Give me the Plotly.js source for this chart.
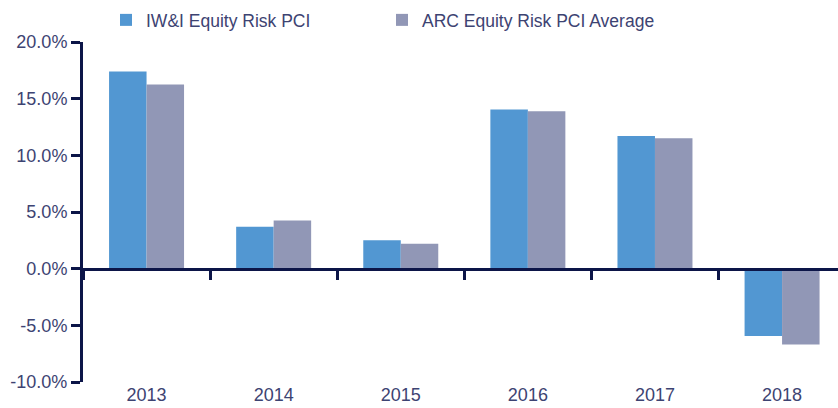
<!DOCTYPE html>
<html>
<head>
<meta charset="utf-8">
<script src="https://cdn.plot.ly/plotly-3.0.1.min.js"></script>
<style>html,body{margin:0;padding:0;background:#fff;}#chart{width:838px;height:408px;}</style>
</head>
<body>
<div id="chart"></div>
<script>
var years = ["2013", "2014", "2015", "2016", "2017", "2018"];
var iwiValues = [17.4, 3.7, 2.5, 14.05, 11.7, -5.95];
var arcValues = [16.25, 4.25, 2.2, 13.9, 11.5, -6.7];
var seriesNames = ["IW&I Equity Risk PCI", "ARC Equity Risk PCI Average"];
var yTickVals = [-10, -5, 0, 5, 10, 15, 20];
var yTickText = ["-10.0%", "-5.0%", "0.0%", "5.0%", "10.0%", "15.0%", "20.0%"];

var navy = "#0c1548";
var textColor = "#3d4372";
var family = "Liberation Sans, Arial, sans-serif";
var tickFont = {family: family, size: 18, color: textColor};
var legendFont = {family: family, size: 17.5, color: textColor};

var data = [
  {type: "bar", name: seriesNames[0], x: years, y: iwiValues, marker: {color: "#5297d2"}, hoverinfo: "x+y"},
  {type: "bar", name: seriesNames[1], x: years, y: arcValues, marker: {color: "#9197b6"}, hoverinfo: "x+y"},
  // invisible carrier so the zero-line axis (x2) gets its categories
  {type: "scatter", mode: "markers", x: years, y: iwiValues, xaxis: "x2", yaxis: "y",
   marker: {opacity: 0, size: 1}, showlegend: false, hoverinfo: "skip"}
];

var layout = {
  width: 838, height: 408,
  margin: {l: 83, r: 0, t: 42, b: 26},
  paper_bgcolor: "#fff", plot_bgcolor: "#fff",
  font: tickFont,
  barmode: "group", bargap: 0.41, bargroupgap: 0,
  showlegend: true,
  legend: {orientation: "h", xref: "container", yref: "container", x: 106/838, y: 1 - 2/408, xanchor: "left", yanchor: "top",
           entrywidth: 231, entrywidthmode: "pixels", font: legendFont, traceorder: "normal"},
  xaxis: {type: "category", categoryarray: years, range: [-0.5, 5.44], anchor: "y", side: "bottom",
          showline: false, ticks: "", showgrid: false, zeroline: false, tickfont: tickFont, fixedrange: true},
  xaxis2: {type: "category", categoryarray: years, overlaying: "x", range: [-0.5, 5.44], anchor: "free", position: 1/3, side: "bottom",
           showline: true, linecolor: navy, linewidth: 3, ticks: "outside", tickson: "boundaries",
           ticklen: 9, tickwidth: 3, tickcolor: navy, showticklabels: false, showgrid: false, zeroline: false, fixedrange: true},
  yaxis: {range: [-10, 20], tickvals: yTickVals, ticktext: yTickText, showline: true, linecolor: navy, linewidth: 3,
          ticks: "outside", ticklen: 9, tickwidth: 3, tickcolor: navy, showgrid: false, zeroline: false,
          tickfont: tickFont, fixedrange: true}
};

Plotly.newPlot("chart", data, layout, {displayModeBar: false, staticPlot: true});
</script>
</body>
</html>
